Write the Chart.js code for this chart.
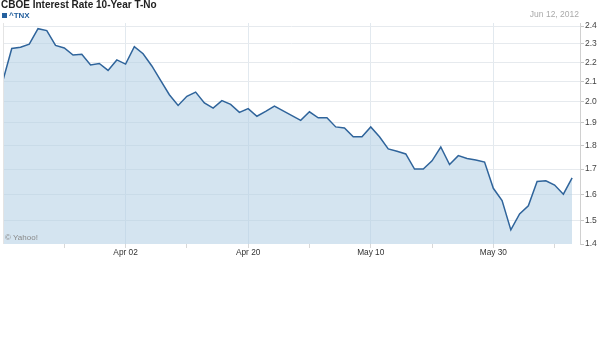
<!DOCTYPE html>
<html>
<head>
<meta charset="utf-8">
<script src="https://cdn.jsdelivr.net/npm/chart.js@4"></script>
<style>
  html, body { margin: 0; padding: 0; background: #fff; }
  canvas { display: block; }
</style>
</head>
<body>
<canvas id="chart" width="599" height="355"></canvas>
<script>
// ^TNX daily close, one value per trading day
const rates = [
  2.106, 2.274, 2.281, 2.298, 2.385, 2.374, 2.291, 2.277, 2.238, 2.242,
  2.185, 2.193, 2.157, 2.212, 2.19, 2.284, 2.245, 2.18, 2.105, 2.034,
  1.982, 2.026, 2.047, 1.994, 1.969, 2.005, 1.987, 1.949, 1.967, 1.931,
  1.954, 1.979, 1.956, 1.934, 1.912, 1.952, 1.924, 1.924, 1.882, 1.877,
  1.838, 1.838, 1.882, 1.838, 1.785, 1.775, 1.763, 1.70, 1.70, 1.734,
  1.793, 1.719, 1.756, 1.744, 1.738, 1.729, 1.623, 1.576, 1.468, 1.526,
  1.556, 1.650, 1.653, 1.636, 1.60, 1.664
];
const dateTickIndex = [14, 28, 42, 56];
const dateTickLabels = ['Apr 02', 'Apr 20', 'May 10', 'May 30'];
const minorTickIndex = [7, 21, 35, 49, 63];
const yTickValues = [1.4, 1.5, 1.6, 1.7, 1.8, 1.9, 2.0, 2.1, 2.2, 2.3, 2.4];

const FONT = "'Liberation Sans', Arial, sans-serif";
const Y_MIN = 1.419;
const Y_MAX = 2.418;

const textPlugin = {
  id: 'yahooText',
  afterDraw(chart) {
    const ctx = chart.ctx;
    const area = chart.chartArea;
    ctx.save();
    // left border of the plot
    ctx.strokeStyle = '#e4e4e4';
    ctx.lineWidth = 1;
    ctx.beginPath();
    ctx.moveTo(area.left + 0.5, area.top);
    ctx.lineTo(area.left + 0.5, area.bottom);
    ctx.stroke();

    ctx.textBaseline = 'middle';
    ctx.textAlign = 'left';
    ctx.fillStyle = '#222';
    ctx.font = 'bold 10px ' + FONT;
    ctx.fillText('CBOE Interest Rate 10-Year T-No', 1, 5.5);

    ctx.fillStyle = '#24609e';
    ctx.fillRect(2, 13, 5, 5);
    ctx.font = 'bold 8px ' + FONT;
    ctx.fillText('^TNX', 9, 15.5);

    ctx.textAlign = 'right';
    ctx.fillStyle = '#aaa';
    ctx.font = '8.5px ' + FONT;
    ctx.fillText('Jun 12, 2012', 579, 15);

    ctx.textAlign = 'left';
    ctx.fillStyle = '#888';
    ctx.font = '8px ' + FONT;
    ctx.fillText('\u00a9 Yahoo!', 5, 238);
    ctx.restore();
  }
};

new Chart(document.getElementById('chart'), {
  type: 'line',
  data: {
    datasets: [{
      label: '^TNX',
      data: rates.map((v, i) => ({ x: i, y: v })),
      borderColor: '#2f649b',
      borderWidth: 1.5,
      backgroundColor: 'rgba(177, 206, 228, 0.55)',
      fill: 'start',
      pointRadius: 0,
      tension: 0,
    }],
  },
  options: {
    responsive: false,
    animation: false,
    devicePixelRatio: 1,
    layout: { padding: { left: 3, top: 23, right: 0, bottom: 0 } },
    plugins: {
      legend: { display: false },
      tooltip: { enabled: false },
    },
    scales: {
      x: {
        type: 'linear',
        min: 0,
        max: 65.9,
        afterBuildTicks: (scale) => {
          scale.ticks = minorTickIndex.concat(dateTickIndex)
            .sort((a, b) => a - b)
            .map((v) => ({ value: v }));
        },
        afterFit: (scale) => { scale.height = 111; },
        border: { display: false },
        grid: {
          color: (c) => dateTickIndex.includes(c.tick && c.tick.value) ? '#e2e9ef' : 'rgba(0,0,0,0)',
          tickColor: '#d8d8d8',
          tickLength: 4,
          drawTicks: true,
        },
        ticks: {
          autoSkip: false,
          maxRotation: 0,
          padding: 0,
          color: '#333',
          font: { family: FONT, size: 8.3 },
          callback: (v) => {
            const k = dateTickIndex.indexOf(v);
            return k >= 0 ? dateTickLabels[k] : '';
          },
        },
      },
      y: {
        type: 'logarithmic',
        position: 'right',
        min: Y_MIN,
        max: Y_MAX,
        afterBuildTicks: (scale) => {
          scale.ticks = yTickValues.map((v) => ({
            value: Math.min(Math.max(v, Y_MIN), Y_MAX),
          }));
        },
        afterFit: (scale) => { scale.width = 19; },
        border: { display: true, color: '#d0d0d0' },
        grid: {
          color: (c) => (c.tick && c.tick.value <= Y_MIN) ? 'rgba(0,0,0,0)' : '#e6eaee',
          tickColor: '#c8c8c8',
          tickLength: 4,
        },
        ticks: {
          padding: 1,
          color: '#444',
          font: { family: FONT, size: 8.5 },
          callback: (v) => Number(v).toFixed(1),
        },
      },
    },
  },
  plugins: [textPlugin],
});
</script>
</body>
</html>
